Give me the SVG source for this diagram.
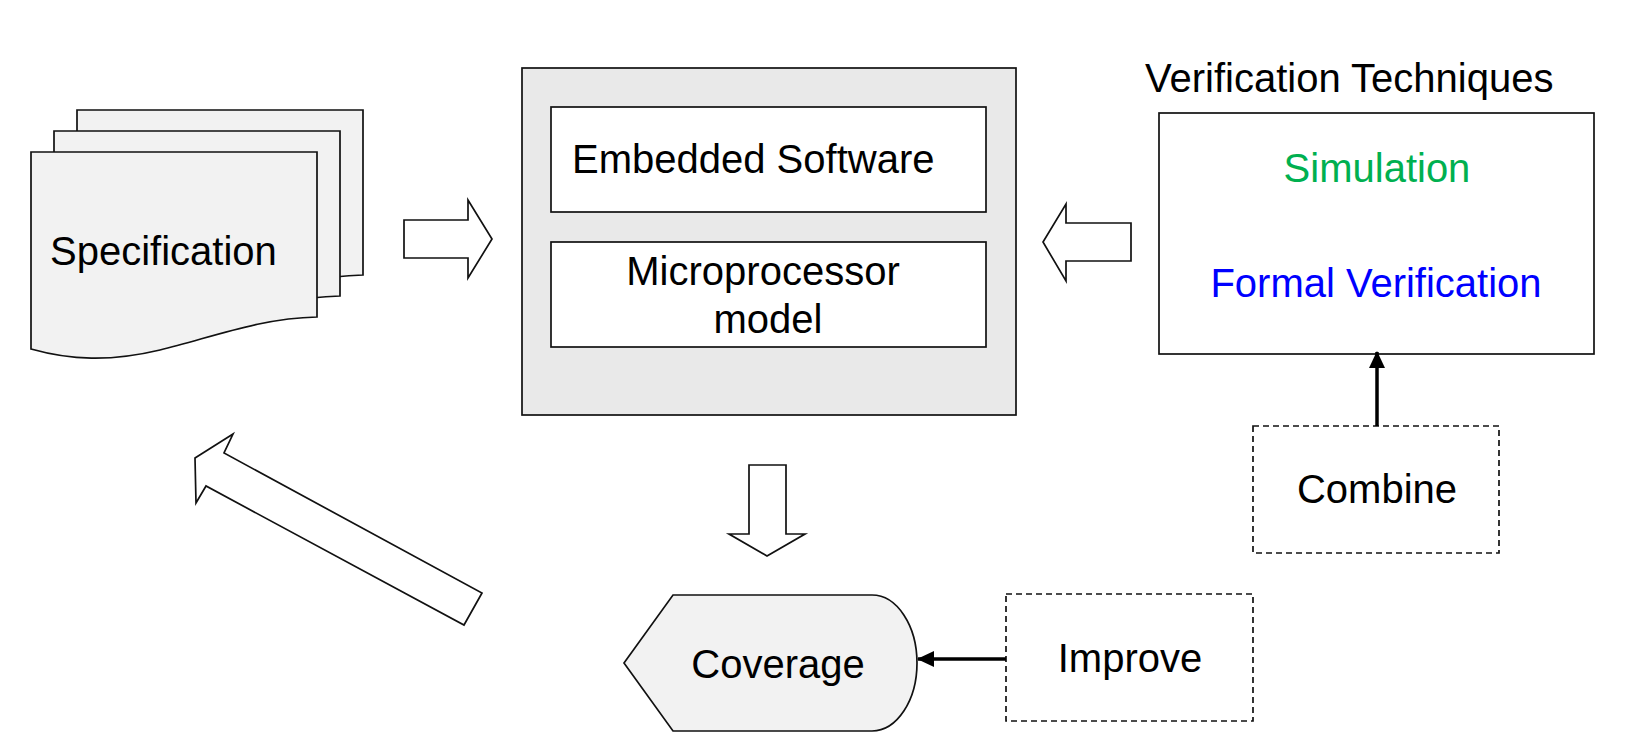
<svg xmlns="http://www.w3.org/2000/svg" xmlns:xlink="http://www.w3.org/1999/xlink" width="1637" height="751" viewBox="0 0 1637 751">
  <style>
    text { font-family: "Liberation Sans", Arial, sans-serif; font-size: 40px; fill: #000; }
    .shape { stroke: #111; stroke-width: 1.7; stroke-linejoin: miter; }
    .page { fill: #f2f2f2; }
    .blockarrow { fill: #fff; stroke: #111; stroke-width: 1.7; }
    .dashed { fill: #fff; stroke: #111; stroke-width: 1.7; stroke-dasharray: 6 4; }
    .conn { stroke: #000; stroke-width: 3.5; fill: none; }
    .mid { text-anchor: middle; }
  </style>
  <defs>
    <path id="docShape" d="M31,152 H317 V317 C260,318 210,338 160,350 C110,362 70,360 31,349 Z"/>
    <marker id="arrowHead" markerUnits="userSpaceOnUse" markerWidth="18" markerHeight="18" viewBox="0 0 18 18" refX="16" refY="9" orient="auto">
      <path d="M0,1 L17,9 L0,17 Z" fill="#000"/>
    </marker>
  </defs>

  <g id="specification">
    <use xlink:href="#docShape" class="shape page" transform="translate(46,-42)"/>
    <use xlink:href="#docShape" class="shape page" transform="translate(23,-21)"/>
    <use xlink:href="#docShape" class="shape page"/>
    <text x="50" y="265">Specification</text>
  </g>

  <g id="arrow-spec-to-system">
    <polygon class="blockarrow" points="404,220 468,220 468,200 492,239 468,278 468,258 404,258"/>
  </g>

  <g id="system">
    <rect x="522" y="68" width="494" height="347" fill="#e9e9e9" class="shape"/>
    <g id="embedded-software">
      <rect x="551" y="107" width="435" height="105" fill="#fff" class="shape"/>
      <text x="572" y="173">Embedded Software</text>
    </g>
    <g id="microprocessor-model">
      <rect x="551" y="242" width="435" height="105" fill="#fff" class="shape"/>
      <text x="763" y="285" class="mid">Microprocessor</text>
      <text x="768" y="333" class="mid">model</text>
    </g>
  </g>

  <g id="arrow-verif-to-system">
    <polygon class="blockarrow" points="1131,223 1066,223 1066,204 1043,242 1066,281 1066,261 1131,261"/>
  </g>

  <g id="verification-techniques">
    <text x="1145" y="92">Verification Techniques</text>
    <rect x="1159" y="113" width="435" height="241" fill="#fff" class="shape"/>
    <text x="1377" y="182" class="mid" style="fill:#00b050">Simulation</text>
    <text x="1376" y="297" class="mid" style="fill:#0000ff">Formal Verification</text>
  </g>

  <g id="combine">
    <rect x="1253" y="426" width="246" height="127" class="dashed"/>
    <text x="1377" y="503" class="mid">Combine</text>
  </g>

  <g id="arrow-system-to-coverage">
    <polygon class="blockarrow" points="749,465 786,465 786,534 805,534 767,556 729,534 749,534"/>
  </g>

  <g id="coverage">
    <path d="M624,663 L673,595 H872 A45,68 0 0 1 872,731 H673 Z" fill="#f2f2f2" class="shape"/>
    <text x="778" y="678" class="mid">Coverage</text>
  </g>

  <g id="improve">
    <rect x="1006" y="594" width="247" height="127" class="dashed"/>
    <text x="1130" y="672" class="mid">Improve</text>
  </g>

  <g id="arrow-coverage-to-spec">
    <polygon class="blockarrow" points="233,434 195,458 196,503 206,486 464,625 482,593 224,453"/>
  </g>

  <g id="connectors">
    <line class="conn" x1="1377" y1="426" x2="1377" y2="352" marker-end="url(#arrowHead)"/>
    <line class="conn" x1="1006" y1="659" x2="918" y2="659" marker-end="url(#arrowHead)"/>
  </g>
</svg>
